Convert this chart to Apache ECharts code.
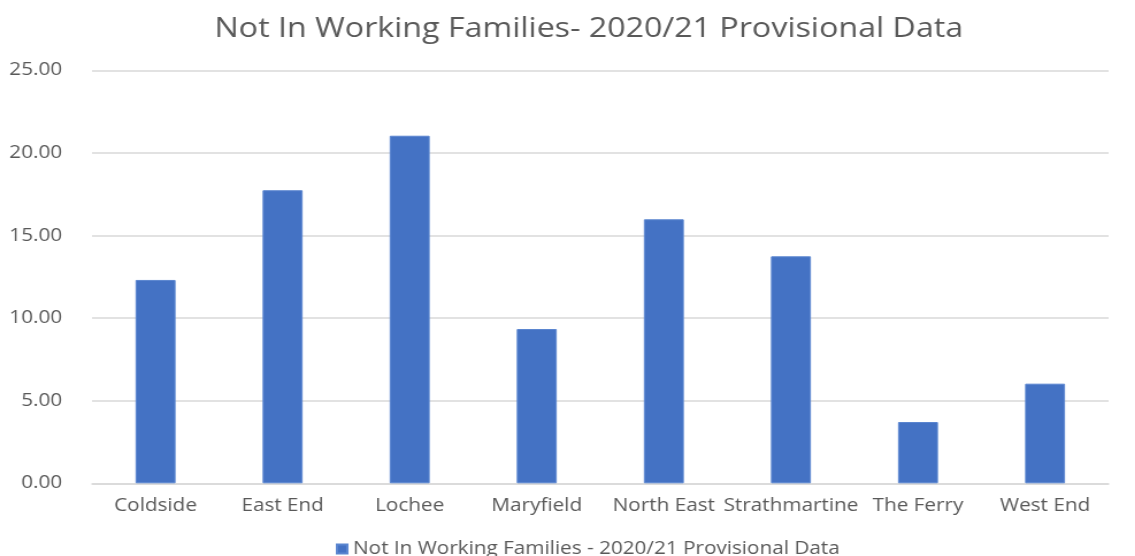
<!DOCTYPE html>
<html>
<head>
<meta charset="utf-8">
<script src="https://cdn.jsdelivr.net/npm/echarts@6/dist/echarts.min.js"></script>
<style>
html,body{margin:0;padding:0;background:#fff;overflow:hidden;}
/* the source picture is stretched sideways, so draw narrower and stretch it the same way */
#chart{width:987px;height:556px;transform:scaleX(1.15);transform-origin:0 0;}
</style>
</head>
<body>
<div id="chart"></div>
<script>
var categories = ['Coldside', 'East End', 'Lochee', 'Maryfield', 'North East', 'Strathmartine', 'The Ferry', 'West End'];
var values = [12.31, 17.74, 21.04, 9.34, 15.98, 13.74, 3.71, 6.03];
var yTicks = [0, 5, 10, 15, 20, 25];
var seriesName = 'Not In Working Families - 2020/21 Provisional Data';
var titleText = 'Not In Working Families- 2020/21 Provisional Data';

var myChart = echarts.init(document.getElementById('chart'));
var option = {
	animation: false,
	textStyle: { fontFamily: 'Open Sans' },
	title: {
		text: titleText,
		left: 507,
		textAlign: 'center',
		top: 10,
		textStyle: { color: '#595959', fontSize: 28, fontWeight: 'normal', fontFamily: 'Open Sans' }
	},
	legend: {
		data: [seriesName],
		top: 535,
		left: 287,
		itemWidth: 9,
		itemHeight: 9,
		itemGap: 4,
		icon: 'rect',
		textStyle: { color: '#595959', fontSize: 18 }
	},
	grid: { left: 80, right: 23, top: 70.3, bottom: 72.7 },
	xAxis: {
		type: 'category',
		data: categories,
		axisTick: { show: false },
		axisLine: { lineStyle: { color: '#d9d9d9', width: 1.5 } },
		axisLabel: { color: '#595959', fontSize: 18, margin: 14, interval: 0 }
	},
	yAxis: {
		type: 'value',
		min: yTicks[0],
		max: yTicks[yTicks.length - 1],
		interval: yTicks[1] - yTicks[0],
		axisLine: { show: false },
		axisTick: { show: false },
		splitLine: { lineStyle: { color: '#d9d9d9', width: 1.5 } },
		axisLabel: {
			color: '#595959',
			fontSize: 18,
			margin: 26,
			formatter: function (v) { return v.toFixed(2); }
		}
	},
	series: [{
		name: seriesName,
		type: 'bar',
		data: values,
		barWidth: '31.5%',
		itemStyle: { color: '#4472C4', borderColor: '#5b86d0', borderWidth: 1 }
	}]
};
myChart.setOption(option);
</script>
</body>
</html>
